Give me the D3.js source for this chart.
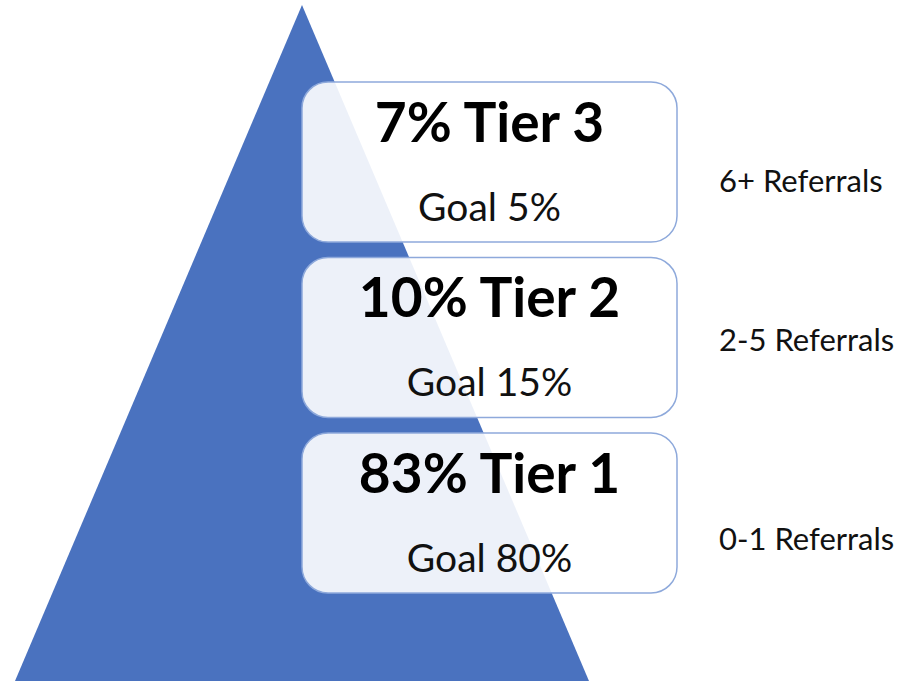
<!DOCTYPE html>
<html>
<head>
<meta charset="utf-8">
<script src="https://cdn.jsdelivr.net/npm/d3@7"></script>
<style>
  body { margin: 0; background: #fff; }
  svg { display: block; font-family: Lato, "Open Sans", sans-serif; }
</style>
</head>
<body>
<script>
// tiers top to bottom
var tiers = ["Tier 3", "Tier 2", "Tier 1"];
var actualPct = [7, 10, 83];
var goalPct = [5, 15, 80];
var referrals = ["6+ Referrals", "2-5 Referrals", "0-1 Referrals"];

var width = 900, height = 681;

var svg = d3.select("body").append("svg")
  .attr("width", width)
  .attr("height", height);

// pyramid shape on a unit scale
var px = d3.scaleLinear().domain([0, 1]).range([15, 589]);
var py = d3.scaleLinear().domain([0, 1]).range([681, 5]);
var pyramid = [[0, 0], [0.5, 1], [1, 0]];

svg.append("path")
  .datum(pyramid)
  .attr("d", d3.line().x(function (d) { return px(d[0]); }).y(function (d) { return py(d[1]); }).curve(d3.curveLinearClosed))
  .attr("fill", "#4A72BF");

// boxes
var y = d3.scaleBand().domain(tiers).range([82, 593]).paddingInner(0.088).paddingOuter(0);
var boxX = 302, boxW = 375;

var g = svg.selectAll("g.tier")
  .data(tiers)
  .enter().append("g")
  .attr("class", "tier")
  .attr("transform", function (d) { return "translate(0," + y(d) + ")"; });

g.append("rect")
  .attr("x", boxX)
  .attr("y", 0)
  .attr("width", boxW)
  .attr("height", y.bandwidth())
  .attr("rx", 26)
  .attr("fill", "#fff")
  .attr("fill-opacity", 0.9)
  .attr("stroke", "#8EA9DB")
  .attr("stroke-width", 1.5);

g.append("text")
  .attr("x", boxX + boxW / 2)
  .attr("y", 60)
  .attr("text-anchor", "middle")
  .attr("font-weight", "bold")
  .attr("font-size", 55)
  .attr("fill", "#000")
  .text(function (d, i) { return actualPct[i] + "% " + d; });

g.append("text")
  .attr("x", boxX + boxW / 2)
  .attr("y", 139)
  .attr("text-anchor", "middle")
  .attr("font-size", 39)
  .attr("fill", "#111")
  .text(function (d, i) { return "Goal " + goalPct[i] + "%"; });

g.append("text")
  .attr("x", 719)
  .attr("y", function (d, i) { return [110, 94, 117][i]; })
  .attr("font-size", 31)
  .attr("fill", "#111")
  .text(function (d, i) { return referrals[i]; });
</script>
</body>
</html>
